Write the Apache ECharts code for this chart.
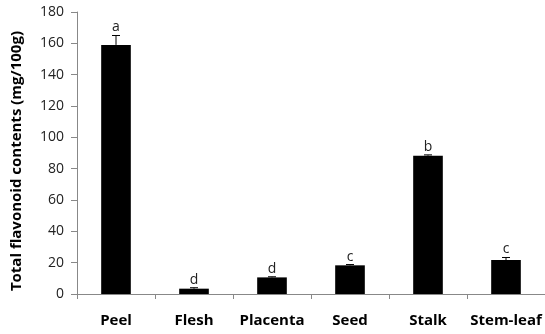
<!DOCTYPE html>
<html><head><meta charset="utf-8">
<script src="https://cdn.jsdelivr.net/npm/echarts@6/dist/echarts.min.js"></script>
<style>html,body{margin:0;padding:0;background:#fff}#c{width:545px;height:334px}</style>
</head><body><div id="c"></div>
<script>
const categories = ['Peel', 'Flesh', 'Placenta', 'Seed', 'Stalk', 'Stem-leaf'];
const values = [159, 3.4, 10.6, 18.3, 88.3, 21.7];
const errors = [6, 0.6, 0.4, 0.5, 0.5, 1.6];
const letters = ['a', 'd', 'd', 'c', 'b', 'c'];
const yTicks = [0, 20, 40, 60, 80, 100, 120, 140, 160, 180];

const FONT = '"Open Sans", sans-serif';
const chart = echarts.init(document.getElementById('c'), null, {renderer: 'canvas'});
chart.setOption({
  animation: false,
  grid: {left: 77, right: -1, top: 12, bottom: 40},
  graphic: [{
    type: 'text', left: 9, top: 31,
    rotation: Math.PI / 2,
    style: {text: 'Total flavonoid contents (mg/100g)', font: 'bold 15px ' + FONT, fill: '#000'},
  }],
  xAxis: {
    type: 'category', data: categories,
    axisLine: {lineStyle: {color: '#888', width: 1}},
    axisTick: {show: true, length: 5, lineStyle: {color: '#888'}},
    axisLabel: {margin: 19, color: '#000', fontFamily: FONT, fontWeight: 'bold', fontSize: 15, interval: 0}
  },
  yAxis: {
    type: 'value', min: yTicks[0], max: yTicks[yTicks.length - 1], interval: 20,
    axisLine: {show: true, lineStyle: {color: '#888', width: 1}},
    axisTick: {show: true, length: 6, inside: false, lineStyle: {color: '#888'}},
    splitLine: {show: false},
    axisLabel: {margin: 13, color: '#222', fontFamily: FONT, fontSize: 14}
  },
  series: [{
    type: 'bar', data: values, barWidth: '38%',
    itemStyle: {color: '#000'}
  }, {
    type: 'custom',
    data: values.map((v, i) => [i, v, errors[i], letters[i]]),
    renderItem: function (params, api) {
      const x = api.value(0), v = api.value(1), e = api.value(2);
      const p0 = api.coord([x, v]);
      const p1 = api.coord([x, v + e]);
      const hw = 4;
      return {type: 'group', children: [
        {type: 'line', shape: {x1: p0[0], y1: p0[1], x2: p1[0], y2: p1[1]}, style: {stroke: '#000', lineWidth: 1}},
        {type: 'line', shape: {x1: p1[0] - hw, y1: p1[1], x2: p1[0] + hw, y2: p1[1]}, style: {stroke: '#000', lineWidth: 1}},
        {type: 'text', x: p1[0], y: p1[1] - 1, style: {text: letters[params.dataIndex], textAlign: 'center', textVerticalAlign: 'bottom', font: '14px ' + FONT, fill: '#222'}}
      ]};
    },
    z: 5
  }]
});
</script></body></html>
